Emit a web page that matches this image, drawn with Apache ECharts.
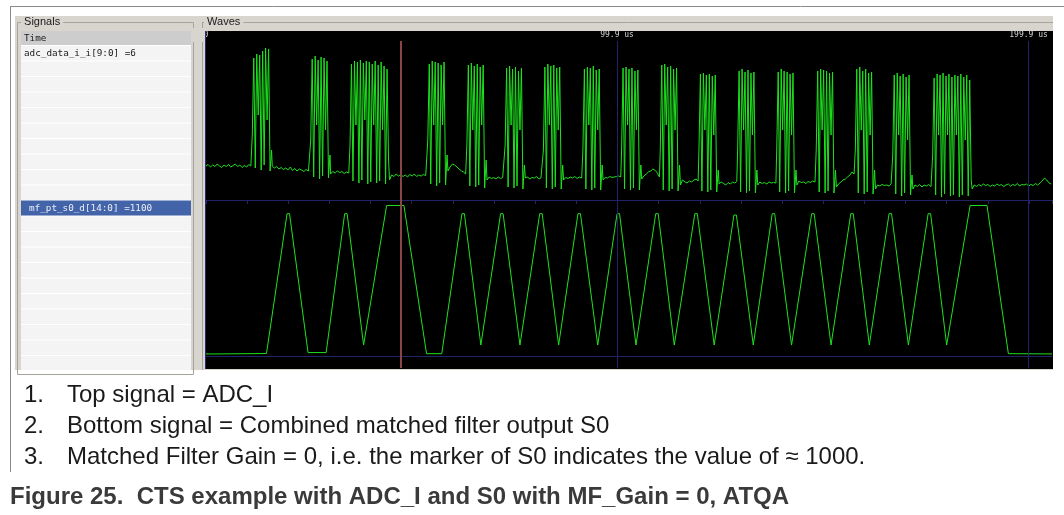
<!DOCTYPE html>
<html><head><meta charset="utf-8">
<script src="https://cdn.jsdelivr.net/npm/echarts@6/dist/echarts.min.js"></script>
<style>html,body{margin:0;padding:0;background:#fff;overflow:hidden}#c{width:1064px;height:515px}</style>
</head><body><div id="c"></div>
<script>
// ---------- data ----------
const timeRange = [0, 205.6];              // us visible in the wave window
const rulerTickStep = 10;                  // us between ruler ticks
const rulerLabelTimes = [0, 99.9, 199.9];  // labelled cursor times
const cursorTimes = [99.9, 199.9];
const markerTime = 47.3;
const signalNames = ['Time', 'adc_data_i_i[9:0] =6', 'mf_pt_s0_d[14:0] =1100'];
const noteItems = ['Top signal = ADC_I', 'Bottom signal = Combined matched filter output S0', 'Matched Filter Gain = 0, i.e. the marker of S0 indicates the value of \u2248 1000.'];
const captionText = 'Figure 25.  CTS example with ADC_I and S0 with MF_Gain = 0, ATQA';

// ADC_I baseline noise between bursts [time us, value]
const adcNoise = [
 [0,68],[0.5,71],[1.1,66],[1.6,70],[2.2,67],[2.7,72],[3.3,68],[3.8,65],[4.4,70],[4.9,67],[5.5,71],[6.0,66],[6.6,69],[7.1,72],[7.7,67],[8.2,70],[8.8,65],[9.3,69],[9.9,66],[10.4,71],[10.9,68],
 [16.1,68],[16.6,64],[17.2,67],[17.7,62],[18.3,65],[18.8,61],[19.4,64],[19.9,60],[20.5,66],[21.0,59],[21.6,63],[22.1,58],[22.7,62],[23.2,60],[23.8,57],[24.3,61],[24.9,58],[25.3,60],
 [30.3,52],[30.8,57],[31.4,54],[31.9,58],[32.5,55],[33.0,57],[33.6,53],[34.1,56],[34.7,54],
 [44.6,40],[45.1,50],[45.7,47],[46.2,52],[46.8,48],[47.3,51],[47.9,47],[48.4,50],[49.0,46],[49.5,51],[50.1,48],[50.6,52],[51.2,47],[51.7,50],[52.3,48],[52.8,51],[53.4,49],
 [58.8,58],[59.3,66],[59.9,72],[60.4,70],[61.0,66],[61.5,62],[62.1,58],[62.6,56],[63.1,52],
 [68.3,40],[68.8,46],[69.4,43],[69.9,45],[70.5,42],[71.0,46],[71.6,43],[72.1,45],[72.5,44],
 [77.6,44],[78.1,46],[78.7,42],[79.2,45],[79.8,44],[80.3,47],[80.9,42],[81.4,44],[81.8,43],
 [86.9,40],[87.4,45],[88.0,43],[88.5,46],[89.1,44],[89.6,47],[90.2,43],[90.7,46],[91.3,44],
 [96.5,40],[97.0,45],[97.6,44],[98.1,47],[98.7,45],[99.2,46],[99.8,47],[100.3,48],[100.8,46],
 [105.9,42],[106.4,48],[107.0,52],[107.5,56],[108.1,58],[108.6,62],[109.2,59],[109.7,54],[110.2,46],
 [115.3,30],[115.8,40],[116.4,36],[116.9,34],[117.5,38],[118.0,36],[118.6,40],[119.1,42],[119.6,38],
 [124.7,32],[125.2,36],[125.8,33],[126.3,30],[126.9,35],[127.4,32],[128.0,36],[128.5,34],[129.0,37],
 [134.1,30],[134.6,36],[135.2,33],[135.7,35],[136.3,32],[136.8,36],[137.4,34],[137.9,35],[138.5,34],
 [143.6,30],[144.1,38],[144.7,35],[145.2,36],[145.8,33],[146.3,37],[146.9,35],[147.4,38],[148.0,36],
 [153.2,26],[153.7,32],[154.3,36],[154.8,40],[155.4,42],[155.9,46],[156.5,50],[157.0,56],[157.5,52],
 [162.7,22],[163.2,30],[163.8,28],[164.3,31],[164.9,29],[165.4,30],[166.0,28],[166.5,32],
 [171.8,22],[172.3,30],[172.9,27],[173.4,31],[174.0,26],[174.5,30],[175.1,28],[175.6,31],[176.2,27],
 [186.2,22],[186.7,30],[187.3,27],[187.8,31],[188.4,28],[188.9,32],[189.5,29],[190.0,31],[190.6,27],[191.1,30],[191.7,28],[192.2,32],[192.8,29],[193.3,31],[193.9,27],[194.4,30],[195.0,32],[195.5,28],[196.1,31],[196.6,29],[197.2,33],[197.7,28],[198.3,31],[198.8,30],[199.4,32],[199.9,28],[200.5,31],[201.0,29],[201.6,33],[202.1,30],[202.7,34],[203.2,38],[203.8,44],[204.3,40],[204.9,34],[205.4,32]
];
// ADC_I subcarrier bursts: start time (us) and the samples of each burst
const adcSamplePeriod = 0.36; // us between ADC samples
const adcBurstStart = [11.25, 25.45, 35.0, 53.9, 63.4, 72.7, 82.0, 91.6, 101.0, 110.4, 119.8, 129.2, 138.7, 148.3, 157.8, 166.9, 176.6];
const adcBurstSamples = [
 [130,284,64,292,170,290,60,298,70,304,160,302,58,100],
 [120,282,46,288,150,280,42,286,48,284,140,278,44,90],
 [110,272,38,278,150,276,34,280,40,274,160,278,32,276,36,272,150,278,34,270,38,276,140,268,32,262,80],
 [120,272,32,278,150,276,28,274,34,270,150,276,30,90],
 [110,270,28,274,140,268,26,272,30,266,150,270,24,80],
 [110,264,26,268,150,262,24,266,28,258,140,264,22,70],
 [100,266,24,272,150,268,22,270,26,264,140,266,22,70],
 [100,262,22,266,150,264,20,268,24,260,140,262,20,70],
 [100,264,22,266,150,262,20,264,24,258,140,260,20,70],
 [100,270,20,272,150,266,18,268,22,262,140,264,18,70],
 [100,252,18,254,140,250,16,252,20,248,130,250,16,60],
 [100,258,16,262,140,256,14,260,18,254,130,256,14,60],
 [100,256,16,262,140,258,14,256,18,252,130,254,14,60],
 [100,258,16,262,140,260,14,258,18,254,130,256,14,60],
 [100,262,14,266,140,258,12,262,16,254,130,256,12,60],
 [90,250,12,254,130,248,8,252,14,246,120,250,10,50],
 [90,244,10,252,130,250,6,254,12,248,130,252,8,246,10,250,130,248,6,252,10,246,120,250,8,240,40]
];
// Matched filter output S0 [time us, value]
const mfOutput = [
 [0,15],[2.4,15],[2.5,18],[14.7,18],[19.7,1040],[20.3,1040],[24.8,25],[29.2,25],[33.7,1040],[34.3,1040],[38.3,80],[38.7,80],
 [43.9,1100],[48.1,1100],[53.6,17],[57.3,17],[62.2,1040],[62.8,1040],[66.8,80],[67.2,80],
 [71.6,1040],[72.2,1040],[76.3,80],[76.7,80],[81.1,1040],[81.7,1040],[85.7,80],[86.1,80],
 [90.4,1040],[91.0,1040],[95.2,80],[95.6,80],[99.9,1040],[100.5,1040],[104.5,80],[104.9,80],
 [109.3,1040],[109.9,1040],[113.8,80],[114.2,80],[118.8,1040],[119.4,1040],[123.5,80],[123.9,80],
 [128.3,1030],[128.9,1030],[133.0,80],[133.4,80],[137.6,1040],[138.2,1040],[142.3,80],[142.7,80],
 [147.2,1040],[147.8,1040],[151.9,80],[152.3,80],[156.7,1040],[157.3,1040],[161.2,80],[161.6,80],
 [166.0,1040],[166.6,1040],[170.7,80],[171.1,80],[175.5,1040],[176.1,1040],[180.0,80],[180.4,80],
 [185.7,1100],[189.8,1100],[195.0,17],[205.6,15]
];
// ---------- build ----------
const adcData = adcNoise.slice();
adcBurstStart.forEach((t0, b) => adcBurstSamples[b].forEach((v, i) => adcData.push([+(t0 + i * adcSamplePeriod).toFixed(3), v])));
adcData.sort((a, b) => a[0] - b[0]);

const NAVY = '#23236b', GREEN = '#1ee21e', PANEL = '#d8d5cf';
const mono = '"DejaVu Sans Mono", monospace', sans = '"Liberation Sans", Arial, sans-serif';

const g = [];
const rect = (x, y, w, h, fill, z, stroke) => g.push({type:'rect', z: z||-10, silent:true, shape:{x,y,width:w,height:h}, style:{fill, stroke: stroke||null, lineWidth:1}});
const line = (x1, y1, x2, y2, stroke, z, w) => g.push({type:'line', z: z||-9, silent:true, shape:{x1,y1,x2,y2}, style:{stroke, lineWidth: w||1}});
const text = (x, y, t, font, fill, z, align) => g.push({type:'text', z: z||-5, silent:true, x, y, style:{text:t, font, fill, textAlign: align||'left', textVerticalAlign:'middle'}});

// outer frame
line(10.5, 6, 10.5, 472, '#8a8a8a');
line(10, 6.5, 1064, 6.5, '#8a8a8a');
// window
rect(15, 16, 1038, 354, PANEL);
// signals group box
rect(17.5, 22.5, 176, 352, null, -9, '#a6a39d');
rect(21, 31, 170, 339, '#f4f4f4', -8);
rect(21, 31, 170, 14, '#cdcdcd', -8);
for (let k = 0; k < 21; k++) line(21, 45.5 + 15.5 * k, 191, 45.5 + 15.5 * k, '#ffffff', -7);
rect(21, 200.5, 170, 15, '#4464aa', -6);
text(21, 22, ' Signals ', '11px ' + sans, '#1a1a1a', -5);
g[g.length-1].style.backgroundColor = PANEL;
text(24, 39, signalNames[0], '9.3px ' + mono, '#1a1a1a');
text(24, 54, signalNames[1], '9.3px ' + mono, '#1a1a1a');
text(29, 208.5, signalNames[2], '9.3px ' + mono, '#e8eef8');
// splitter & waves group box
line(202.5, 22, 202.5, 370, '#a6a39d');
line(202, 22.5, 1053, 22.5, '#a6a39d');
text(204, 22, ' Waves ', '11px ' + sans, '#1a1a1a', -5);
g[g.length-1].style.backgroundColor = PANEL;
rect(205, 31, 848, 338, '#000000', -8);
line(205.5, 31, 205.5, 369, '#2a2a78', 50);
rect(192, 28, 13, 14, PANEL, 49);
// notes and caption
noteItems.forEach((t, i) => {
  const y = 395 + i * 31;
  text(24, y, (i + 1) + '.', '24px ' + sans, '#1a1a1a');
  text(67, y, t, '24px ' + sans, '#1a1a1a');
});
text(10, 497, captionText, 'bold 24px ' + sans, '#3a3a3a');

const gridL = 206, gridW = 846;
const option = {
  animation: false,
  backgroundColor: '#ffffff',
  graphic: {elements: g},
  grid: [
    {left: gridL, top: 41, width: gridW, height: 159},
    {left: gridL, top: 200, width: gridW, height: 156},
    {left: gridL, top: 41, width: gridW, height: 327}
  ],
  xAxis: [
    {gridIndex: 0, type: 'value', position: 'top', min: timeRange[0], max: timeRange[1], interval: rulerTickStep,
     axisLine: {show: true, lineStyle: {color: NAVY}}, axisTick: {show: true, inside: true, length: 4, lineStyle: {color: NAVY}},
     axisLabel: {show: true, customValues: rulerLabelTimes, formatter: v => v === 0 ? '0' : v + ' us', color: '#d4d4d4', fontSize: 8, fontFamily: mono, margin: 2},
     splitLine: {show: false}},
    {gridIndex: 0, type: 'value', position: 'bottom', min: timeRange[0], max: timeRange[1],
     axisLine: {show: true, lineStyle: {color: NAVY}}, axisTick: {show: false}, axisLabel: {show: false}, splitLine: {show: false}},
    {gridIndex: 1, type: 'value', position: 'bottom', min: timeRange[0], max: timeRange[1],
     axisLine: {show: true, lineStyle: {color: NAVY}}, axisTick: {show: false}, axisLabel: {show: false}, splitLine: {show: false}},
    {gridIndex: 2, type: 'value', min: timeRange[0], max: timeRange[1], show: false}
  ],
  yAxis: [
    {gridIndex: 0, type: 'value', min: 0, max: 318, show: false},
    {gridIndex: 1, type: 'value', min: 0, max: 1140, show: false},
    {gridIndex: 2, type: 'value', min: 0, max: 1, show: false}
  ],
  series: [
    {type: 'line', name: 'adc', xAxisIndex: 1, yAxisIndex: 0, data: adcData, showSymbol: false, symbol: 'none', sampling: null,
     lineStyle: {color: GREEN, width: 1}, silent: true, z: 3},
    {type: 'line', name: 'mf', xAxisIndex: 2, yAxisIndex: 1, data: mfOutput, showSymbol: false, symbol: 'none',
     lineStyle: {color: GREEN, width: 1}, silent: true, z: 3},
    {type: 'line', name: 'cursors', xAxisIndex: 3, yAxisIndex: 2, data: [], silent: true, z: 4,
     markLine: {silent: true, symbol: 'none', label: {show: false}, animation: false,
       data: cursorTimes.map(t => ({xAxis: t, lineStyle: {color: NAVY, width: 1, type: 'solid'}}))
         .concat([{xAxis: markerTime, lineStyle: {color: '#8a4646', width: 2, type: 'solid'}}])}}
  ]
};
const chart = echarts.init(document.getElementById('c'));
chart.setOption(option);
</script></body></html>
